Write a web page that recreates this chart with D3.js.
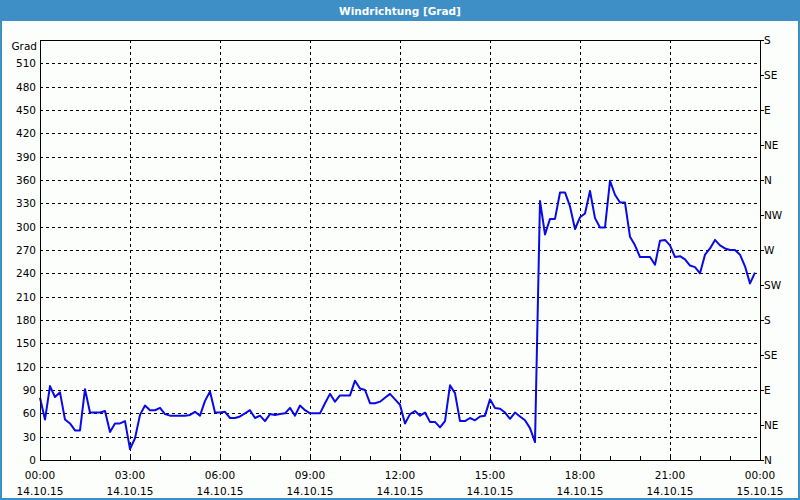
<!DOCTYPE html>
<html>
<head>
<meta charset="utf-8">
<script src="https://cdn.jsdelivr.net/npm/d3@7"></script>
<style>
  html, body { margin: 0; padding: 0; background: #fcfefc; }
  svg { display: block; }
</style>
</head>
<body>
<svg id="chart" width="800" height="500"></svg>
<script>
// 10-minute samples from 14.10.15 00:00 to 23:50 (degrees)
const windDir = [
  80, 52, 95, 81, 87, 52, 47, 38, 38, 91,
  61, 61, 61, 63, 36, 47, 47, 50, 14, 28,
  58, 70, 64, 64, 67, 59, 57, 57, 57, 57,
  58, 62, 57, 76, 88, 61, 61, 62, 54, 54,
  56, 60, 64, 54, 57, 50, 59, 58, 59, 60,
  67, 57, 70, 64, 60, 60, 60, 73, 85, 75,
  83, 83, 83, 102, 92, 90, 73, 73, 75, 80,
  85, 78, 71, 47, 59, 63, 57, 61, 49, 49,
  42, 50, 96, 86, 50, 50, 54, 51, 56, 57,
  78, 67, 66, 61, 53, 61, 56, 51, 41, 23,
  333, 290, 310, 310, 344, 344, 326, 297, 312, 317,
  346, 311, 299, 299, 359, 341, 331, 331, 287, 276,
  261, 261, 261, 251, 282, 283, 276, 261, 262, 258,
  250, 248, 240, 264, 272, 283, 276, 272, 270, 270,
  264, 249, 227, 241
];
const stepMinutes = 10;
const leftTicks = [0,30,60,90,120,150,180,210,240,270,300,330,360,390,420,450,480,510];
const rightTickValues = [0,45,90,135,180,225,270,315,360,405,450,495,540];
const rightTickLabels = ["N","NE","E","SE","S","SW","W","NW","N","NE","E","SE","S"];
const timeTickLabels = ["00:00","03:00","06:00","09:00","12:00","15:00","18:00","21:00","00:00"];
const dateTickLabels = ["14.10.15","14.10.15","14.10.15","14.10.15","14.10.15","14.10.15","14.10.15","14.10.15","15.10.15"];
const title = "Windrichtung [Grad]";
const yUnit = "Grad";

const W = 800, H = 500;
const m = {left: 40, right: 760, top: 40, bottom: 460};
const font = "'DejaVu Sans', Verdana, sans-serif";
const svg = d3.select("#chart");

// window frame
svg.append("rect").attr("x",0).attr("y",0).attr("width",W).attr("height",H).attr("fill","#3d8fc6");
svg.append("rect").attr("x",2).attr("y",21).attr("width",W-4).attr("height",H-23).attr("fill","#fcfefc");
svg.append("text").attr("x",W/2).attr("y",14.5).attr("text-anchor","middle")
  .attr("fill","#ffffff").attr("font-family",font).attr("font-weight","bold").attr("font-size","10.5px")
  .text(title);

const t0 = new Date(2015, 9, 14, 0, 0);
const t1 = new Date(2015, 9, 15, 0, 0);
const x = d3.scaleTime().domain([t0, t1]).range([m.left, m.right]);
const y = d3.scaleLinear().domain([0, 540]).range([m.bottom, m.top]);

const majorTimes = d3.timeHour.every(3).range(t0, d3.timeMinute.offset(t1, 1));
const minorTimes = d3.timeHour.every(1).range(t0, d3.timeMinute.offset(t1, 1));

// grid
const grid = svg.append("g").attr("stroke","#000").attr("stroke-width",1).attr("stroke-dasharray","3,3");
grid.selectAll("line.h").data(leftTicks.filter(v => v > 0)).join("line")
  .attr("x1", m.left).attr("x2", m.right)
  .attr("y1", d => Math.round(y(d)) + 0.5).attr("y2", d => Math.round(y(d)) + 0.5);
grid.selectAll("line.v").data(majorTimes.slice(1, -1)).join("line")
  .attr("y1", m.top).attr("y2", m.bottom)
  .attr("x1", d => Math.round(x(d)) + 0.5).attr("x2", d => Math.round(x(d)) + 0.5);

// minor ticks on x (inside, upward)
svg.append("g").attr("stroke","#000").selectAll("line").data(minorTimes).join("line")
  .attr("x1", d => Math.round(x(d)) + 0.5).attr("x2", d => Math.round(x(d)) + 0.5)
  .attr("y1", m.bottom - 4).attr("y2", m.bottom);

// data line
const line = d3.line()
  .x((d, i) => x(d3.timeMinute.offset(t0, i * stepMinutes)))
  .y(d => y(d));
svg.append("path").datum(windDir).attr("d", line)
  .attr("fill","none").attr("stroke","#0a0ae6").attr("stroke-width",2).attr("stroke-linejoin","round");

// frame
svg.append("rect").attr("x", m.left + 0.5).attr("y", m.top + 0.5)
  .attr("width", m.right - m.left).attr("height", m.bottom - m.top)
  .attr("fill","none").attr("stroke","#000").attr("stroke-width",1);

// left axis labels
const lab = svg.append("g").attr("font-family",font).attr("font-size","10.5px").attr("fill","#000");
lab.selectAll("text.l").data(leftTicks).join("text")
  .attr("x", m.left - 4).attr("y", d => y(d) + 4).attr("text-anchor","end").text(d => d);
lab.append("text").attr("x", m.left - 3).attr("y", 50).attr("text-anchor","end").text(yUnit);

// right axis
svg.append("g").attr("stroke","#000").selectAll("line").data(rightTickValues).join("line")
  .attr("x1", m.right).attr("x2", m.right + 4)
  .attr("y1", d => Math.round(y(d)) + 0.5).attr("y2", d => Math.round(y(d)) + 0.5);
lab.selectAll("text.r").data(rightTickValues).join("text")
  .attr("x", m.right + 4).attr("y", d => y(d) + 4).attr("text-anchor","start")
  .text((d, i) => rightTickLabels[i]);

// bottom labels
lab.selectAll("text.t").data(majorTimes).join("text")
  .attr("x", d => x(d)).attr("y", 479).attr("text-anchor","middle")
  .text((d, i) => timeTickLabels[i]);
lab.selectAll("text.d").data(majorTimes).join("text")
  .attr("x", d => x(d)).attr("y", 495).attr("text-anchor","middle")
  .text((d, i) => dateTickLabels[i]);
</script>
</body>
</html>
